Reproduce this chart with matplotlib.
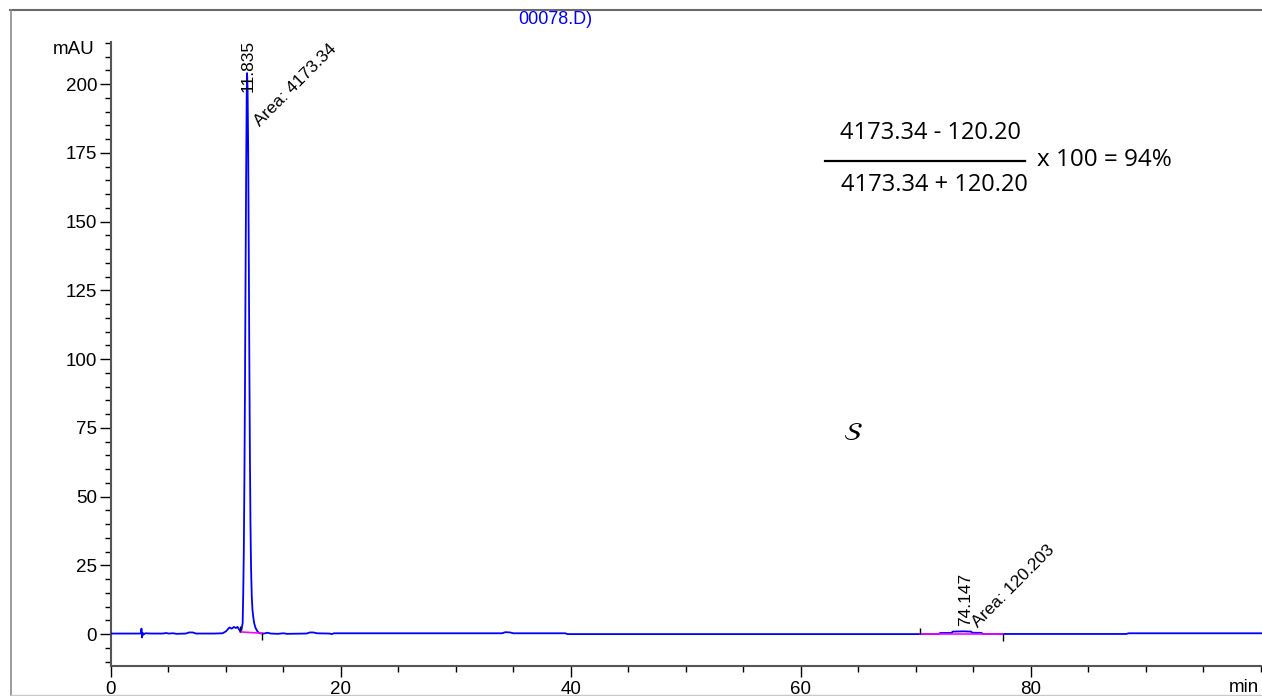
import matplotlib
matplotlib.use("Agg")
import matplotlib.pyplot as plt
from matplotlib.ticker import MultipleLocator
from matplotlib.lines import Line2D

# ---------------- data ----------------
time_min = [0.0, 2.5, 2.6, 2.65, 2.7, 2.75, 2.8, 3.0, 3.5, 4.5, 4.8, 5.0, 5.4, 5.7,
            6.5, 6.8, 7.1, 7.4, 9.0, 9.7, 10.0, 10.3, 10.5, 10.7, 10.85, 11.0,
            11.15, 11.25, 11.35, 11.45, 11.5, 11.55, 11.6, 11.65, 11.7, 11.75,
            11.8, 11.835, 11.88, 11.93, 11.98, 12.03, 12.08, 12.13, 12.18, 12.24,
            12.3, 12.37, 12.45, 12.55, 12.7, 12.85, 12.95, 13.3, 13.6, 13.9, 14.5,
            15.0, 15.3, 17.0, 17.3, 17.6, 17.9, 19.0, 19.2, 19.4, 34.0, 34.3, 34.7,
            35.0, 39.5, 39.7, 70.4, 72.0, 72.1, 73.1, 73.2, 74.147, 74.8, 74.9,
            75.7, 75.8, 88.3, 88.5, 100.1]
signal_mau = [0.2, 0.2, 0.3, 2.0, -1.2, 0.5, -0.2, 0.3, 0.2, 0.2, 0.4, 0.2, 0.3, 0.1,
              0.2, 0.6, 0.6, 0.2, 0.2, 0.3, 1.0, 2.4, 2.0, 2.6, 2.2, 2.6,
              1.6, 0.9, 1.6, 4.0, 15.0, 30.0, 55.0, 88.0, 128.0, 165.0,
              195.0, 204.0, 198.0, 176.0, 140.0, 100.0, 65.0, 40.0, 24.0, 14.0,
              9.0, 6.3, 4.0, 2.5, 1.2, 0.5, 0.3, 0.2, 0.5, 0.2, 0.1,
              0.3, 0.1, 0.2, 0.6, 0.6, 0.3, 0.2, 0.0, 0.3, 0.3, 0.7, 0.6,
              0.3, 0.3, 0.0, 0.0, 0.0, 0.4, 0.45, 0.9, 1.0, 0.9, 0.5,
              0.45, 0.05, 0.05, 0.3, 0.3]

peak_times = [11.835, 74.147]
peak_heights = [204.0, 1.0]
peak_areas = [4173.34, 120.203]
peak_start = [11.25, 70.4]
peak_end = [13.15, 77.6]
base_start_level = [0.8, 0.05]
base_end_level = [0.3, 0.05]

x_ticks = [0, 20, 40, 60, 80]
y_ticks = [0, 25, 50, 75, 100, 125, 150, 175, 200]

# ---------------- figure ----------------
W, H = 1262, 696
fig = plt.figure(figsize=(W / 100, H / 100), dpi=100)
plt.rcParams['font.family'] = ['Liberation Sans', 'DejaVu Sans']

def fx(px):
    return px / W

def fy(py):
    return 1 - py / H

# outer frame
fig.add_artist(Line2D([fx(10), 1.0], [fy(10), fy(10)], color='#6a6a6a', lw=1.5))
fig.add_artist(Line2D([fx(11), fx(11)], [fy(10), fy(695)], color='#8a8a8a', lw=1.2))
fig.add_artist(Line2D([fx(11), 1.0], [fy(695), fy(695)], color='#c8c8c8', lw=1.0))

ax = fig.add_axes([fx(111), 30 / H, 1151 / W, 624 / H])
ax.set_xlim(0, 100.1)
ax.set_ylim(-11.6, 215.3)

# trace
ax.plot(time_min, signal_mau, color='#0000ff', lw=1.3, zorder=3)

# integration baselines
for s, e, b0, b1 in zip(peak_start, peak_end, base_start_level, base_end_level):
    ax.plot([s, e], [b0, b1], color='#ff00ff', lw=1.2, zorder=4)
# event markers
ax.vlines(peak_start, [b for b in base_start_level], [b + 2.3 for b in base_start_level],
          color='black', lw=1.0, zorder=5)
ax.vlines(peak_end, [b for b in base_end_level], [b - 2.6 for b in base_end_level],
          color='black', lw=1.0, zorder=5)

# peak labels
label_fs = 12.5
ax.annotate(f"{peak_times[0]:.3f}", xy=(peak_times[0], peak_heights[0]),
            xytext=(0.7, -13.5), textcoords='offset points', rotation=90,
            ha='center', va='bottom', fontsize=label_fs)
ax.annotate(f"Area: {peak_areas[0]:.2f}", xy=(peak_times[0], peak_heights[0]),
            xytext=(3.0, -40.5), textcoords='offset points', rotation=45,
            ha='left', va='bottom', fontsize=label_fs)
ax.annotate(f"{peak_times[1]:.3f}", xy=(peak_times[1], peak_heights[1]),
            xytext=(1.3, 3.5), textcoords='offset points', rotation=90,
            ha='center', va='bottom', fontsize=label_fs)
ax.annotate(f"Area: {peak_areas[1]:.3f}", xy=(peak_times[1], peak_heights[1]),
            xytext=(4.0, 1.0), textcoords='offset points', rotation=45,
            ha='left', va='bottom', fontsize=label_fs)

# axes styling
for side in ['top', 'right']:
    ax.spines[side].set_visible(False)
ax.spines['left'].set_color('#555555')
ax.spines['bottom'].set_color('#555555')
ax.spines['left'].set_linewidth(1.5)
ax.spines['bottom'].set_linewidth(1.5)

ax.set_xticks(x_ticks)
ax.set_yticks(y_ticks)
ax.xaxis.set_minor_locator(MultipleLocator(5))
ax.yaxis.set_minor_locator(MultipleLocator(5))
ax.tick_params(axis='both', which='major', length=8, width=1.0, color='black',
               labelsize=13.5, pad=2)
ax.tick_params(axis='both', which='minor', length=4, width=1.0, color='black')
ax.tick_params(axis='x', which='major', pad=3)

# axis unit labels
fig.text(fx(95), fy(50), "mAU", ha='right', va='center', fontsize=13.5)
fig.text(fx(1259), fy(688), "min", ha='right', va='center', fontsize=13.5)

# title fragment
fig.text(fx(555), fy(20), "00078.D)", ha='center', va='center', fontsize=13,
         color='#0000ff')

# formula
ffont = ['Open Sans', 'DejaVu Sans']
fig.text(fx(930), fy(133), "4173.34 - 120.20", ha='center', va='center',
         fontsize=17, family=ffont)
fig.add_artist(Line2D([fx(825), fx(1025)], [fy(161), fy(161)], color='black', lw=1.6))
fig.text(fx(934), fy(185), "4173.34 + 120.20", ha='center', va='center',
         fontsize=17, family=ffont)
fig.text(fx(1037), fy(160), "x 100 = 94%", ha='left', va='center',
         fontsize=17.5, family=ffont)

# handwritten S mark
fig.text(fx(853), fy(433), r"$\mathcal{S}$", ha='center', va='center', fontsize=19)

fig.savefig("out.png", dpi=100)
